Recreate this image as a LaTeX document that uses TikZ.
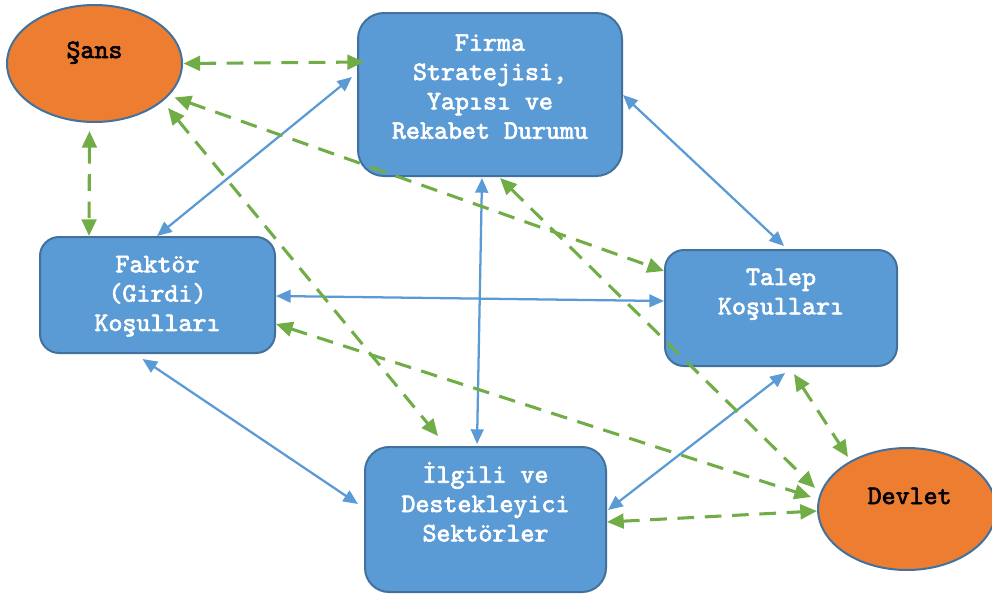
\documentclass[tikz,border=0pt]{standalone}
\usepackage{fontspec}
\newfontfamily\courfont{lmmono10-regular}[Extension=.otf,FakeBold=2.5]
\usetikzlibrary{arrows.meta,shapes.geometric}
\definecolor{boxfill}{HTML}{5B9BD5}
\definecolor{boxedge}{HTML}{41719C}
\definecolor{ovalfill}{HTML}{ED7D31}
\definecolor{arrblue}{HTML}{5B9BD5}
\definecolor{arrgreen}{HTML}{70AD47}
\begin{document}
\begin{tikzpicture}[x=0.75pt,y=-0.75pt,
  boxnode/.style={rectangle,draw=boxedge,fill=boxfill,line width=1.5pt,inner sep=0pt},
  ovalnode/.style={ellipse,draw=boxedge,fill=ovalfill,line width=1.5pt,inner sep=0pt},
  boxtxt/.style={text=white,font={\courfont\fontsize{20pt}{22pt}\selectfont},anchor=base,inner sep=0pt},
  ovaltxt/.style={text=black,font={\courfont\fontsize{20pt}{22pt}\selectfont},anchor=base,inner sep=0pt},
  bluearr/.style={draw=arrblue,line width=1.7pt,{Triangle[length=11pt,width=9.5pt]}-{Triangle[length=11pt,width=9.5pt]}},
  greenarr/.style={draw=arrgreen,line width=2.3pt,dash pattern=on 12.5pt off 8pt,{Triangle[length=12.5pt,width=11pt]}-{Triangle[length=12.5pt,width=11pt]}}]
\useasboundingbox (0,0) rectangle (992,596);

% shapes
\node[ovalnode,minimum width=131.25pt,minimum height=87.75pt] (sans) at (94.5,63.5) {};
\node[ovalnode,minimum width=133.5pt,minimum height=91.5pt] (devlet) at (907,509) {};
\node[boxnode,minimum width=198pt,minimum height=122.25pt,rounded corners=19.5pt] (firma) at (490,94.5) {};
\node[boxnode,minimum width=176.25pt,minimum height=87pt,rounded corners=14.25pt] (faktor) at (157.5,295) {};
\node[boxnode,minimum width=174pt,minimum height=87pt,rounded corners=14.25pt] (talep) at (781,308) {};
\node[boxnode,minimum width=180.75pt,minimum height=108.75pt,rounded corners=18pt] (ilgili) at (485.5,519.5) {};

% texts
\node[ovaltxt] (sansT) at ([yshift=4.1pt]sans.center) {Şans};
\node[ovaltxt] (devletT) at ([xshift=2pt,yshift=3.75pt]devlet.center) {Devlet};
\node[boxtxt] (firmaT) at ([yshift=-29pt]firma.north) {\begin{tabular}[t]{@{}c@{}}Firma\\Stratejisi,\\Yapısı ve\\Rekabet Durumu\end{tabular}};
\node[boxtxt] (faktorT) at ([yshift=-27.2pt]faktor.north) {\begin{tabular}[t]{@{}c@{}}Faktör\\(Girdi)\\Koşulları\end{tabular}};
\node[boxtxt] (talepT) at ([yshift=-27pt]talep.north) {\begin{tabular}[t]{@{}c@{}}Talep\\Koşulları\end{tabular}};
\node[boxtxt] (ilgiliT) at ([yshift=-27.5pt]ilgili.north) {\begin{tabular}[t]{@{}c@{}}İlgili ve\\Destekleyici\\Sektörler\end{tabular}};

% blue connectors
\draw[bluearr] ([shift={(-5,65)}]firma.north west) -- ([shift={(118,0)}]faktor.north west);
\draw[bluearr] ([shift={(0,83)}]firma.north east) -- ([shift={(3,-3)}]talep.north);
\draw[bluearr] ([shift={(-8,1)}]firma.south) -- ([shift={(-8.5,-2)}]ilgili.north);
\draw[bluearr] ([shift={(0,1)}]faktor.east) -- ([shift={(0,-7)}]talep.west);
\draw[bluearr] ([shift={(-15,5)}]faktor.south) -- ([shift={(-6,-15.5)}]ilgili.west);
\draw[bluearr] ([shift={(4,6)}]talep.south) -- ([shift={(1,-9.5)}]ilgili.east);

% green connectors
\draw[greenarr] ([shift={(0.5,0)}]sans.east) -- ([shift={(7,50)}]firma.north west);
\draw[greenarr] ([shift={(-5,8)}]sans.south) -- ([shift={(50,0)}]faktor.north west);
\draw[greenarr] ([shift={(80,34)}]sans.center) -- ([shift={(0,22)}]talep.north west);
\draw[greenarr] ([shift={(73.5,44.5)}]sans.center) -- ([shift={(74,-10)}]ilgili.north west);
\draw[greenarr] ([shift={(10,1)}]firma.south) -- ([shift={(-92,-21)}]devlet.center);
\draw[greenarr] ([shift={(0,29)}]faktor.east) -- ([shift={(-96,-12)}]devlet.center);
\draw[greenarr] ([shift={(13,7)}]talep.south) -- ([shift={(-59,-52)}]devlet.center);
\draw[greenarr] ([shift={(0,2.5)}]ilgili.east) -- ([shift={(0,2)}]devlet.west);
\end{tikzpicture}
\end{document}
